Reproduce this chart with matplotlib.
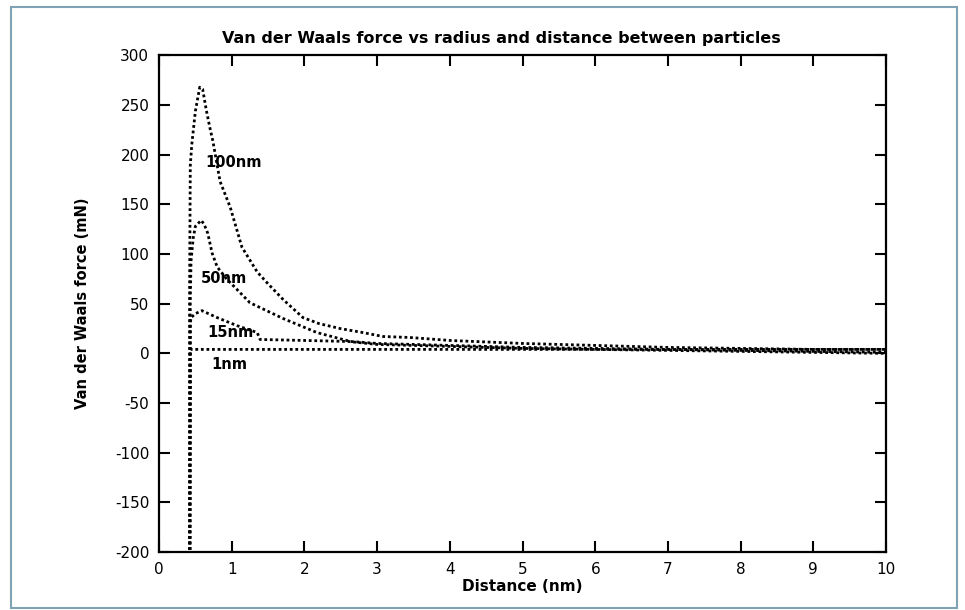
import matplotlib
matplotlib.use("Agg")
import matplotlib.pyplot as plt
from matplotlib.patches import Rectangle

# Values (distance in nm, force in mN)
x_100nm = [0.42, 0.42, 0.43, 0.45, 0.50, 0.56, 0.60, 0.65, 0.70, 0.74, 0.84, 0.98, 1.14,
           1.35, 1.50, 1.71, 1.98, 2.20, 2.49, 2.80, 3.08, 3.45, 4.0, 5.0, 6.0, 7.0, 8.0, 9.0, 10.0]
y_100nm = [-400, 60, 189, 210, 244, 268, 266, 245, 227, 214, 173, 147, 107,
           82, 70, 54, 36, 30, 25, 21, 17, 16, 13, 10, 8, 6, 5, 4, 4]

x_50nm = [0.42, 0.43, 0.44, 0.47, 0.50, 0.58, 0.62, 0.67, 0.73, 0.80, 0.93, 1.25,
          1.71, 2.17, 2.63, 3.0, 4.0, 5.0, 6.0, 7.0, 8.0, 9.0, 10.0]
y_50nm = [-400, 53, 93, 116, 128, 134, 130, 121, 101, 87, 75, 51,
          35, 21, 12, 10, 8, 6, 5, 4, 3, 2, 1]

x_15nm = [0.42, 0.43, 0.44, 0.50, 0.59, 0.65, 0.80, 1.07, 1.35, 1.39, 2.0, 2.6,
          3.0, 4.0, 5.0, 6.0, 7.0, 8.0, 9.0, 10.0]
y_15nm = [-400, 30, 36, 40, 43, 41, 36, 28, 21, 14, 13, 12,
          9, 7, 5, 4, 3, 2, 1, 0]

x_1nm = [0.42, 0.43, 0.45, 1.0, 2.0, 3.0, 4.0, 5.0, 6.0, 7.0, 8.0, 9.0, 10.0]
y_1nm = [-400, 4, 4, 4, 4, 4, 4, 4, 4, 4, 4, 4, 4]

curve_labels = ["100nm", "50nm", "15nm", "1nm"]
label_x = [0.63, 0.57, 0.66, 0.72]
label_y = [192, 75, 21, -11]

x_ticks = list(range(0, 11))
y_ticks = list(range(-200, 301, 50))

plt.rcParams['font.family'] = ['DejaVu Sans']
plt.rcParams['axes.unicode_minus'] = False

fig = plt.figure(figsize=(9.65, 6.1), dpi=100)
ax = fig.add_axes([0.1648, 0.0951, 0.7534, 0.814])

# outer frame around the whole picture
fig.patches.append(Rectangle((11 / 965, 2 / 610), 946 / 965, 601 / 610,
                             transform=fig.transFigure, fill=False,
                             edgecolor='#7fa3b5', linewidth=1.5))

dot = (0, (1, 1))
for xs, ys in [(x_100nm, y_100nm), (x_50nm, y_50nm), (x_15nm, y_15nm), (x_1nm, y_1nm)]:
    ax.plot(xs, ys, color='black', linestyle=dot, linewidth=2.0,
            dash_capstyle='butt', clip_on=True)

for name, lx, ly in zip(curve_labels, label_x, label_y):
    ax.text(lx, ly, name, fontsize=10.5, fontweight='bold', ha='left', va='center')

ax.set_xlim(0, 10)
ax.set_ylim(-200, 300)
ax.set_xticks(x_ticks)
ax.set_yticks(y_ticks)
ax.tick_params(direction='in', length=8, width=1.5, top=True, right=True,
               labelsize=11, pad=7)
for s in ax.spines.values():
    s.set_linewidth(1.6)

ax.set_xlabel("Distance (nm)", fontsize=11, fontweight='bold', labelpad=2)
ax.set_ylabel("Van der Waals force (mN)", fontsize=10.5, fontweight='bold', labelpad=18)
fig.text(501 / 965, 1 - 38 / 610, "Van der Waals force vs radius and distance between particles",
         fontsize=11.5, fontweight='bold', ha='center', va='center')

fig.savefig("out.png", dpi=100)
